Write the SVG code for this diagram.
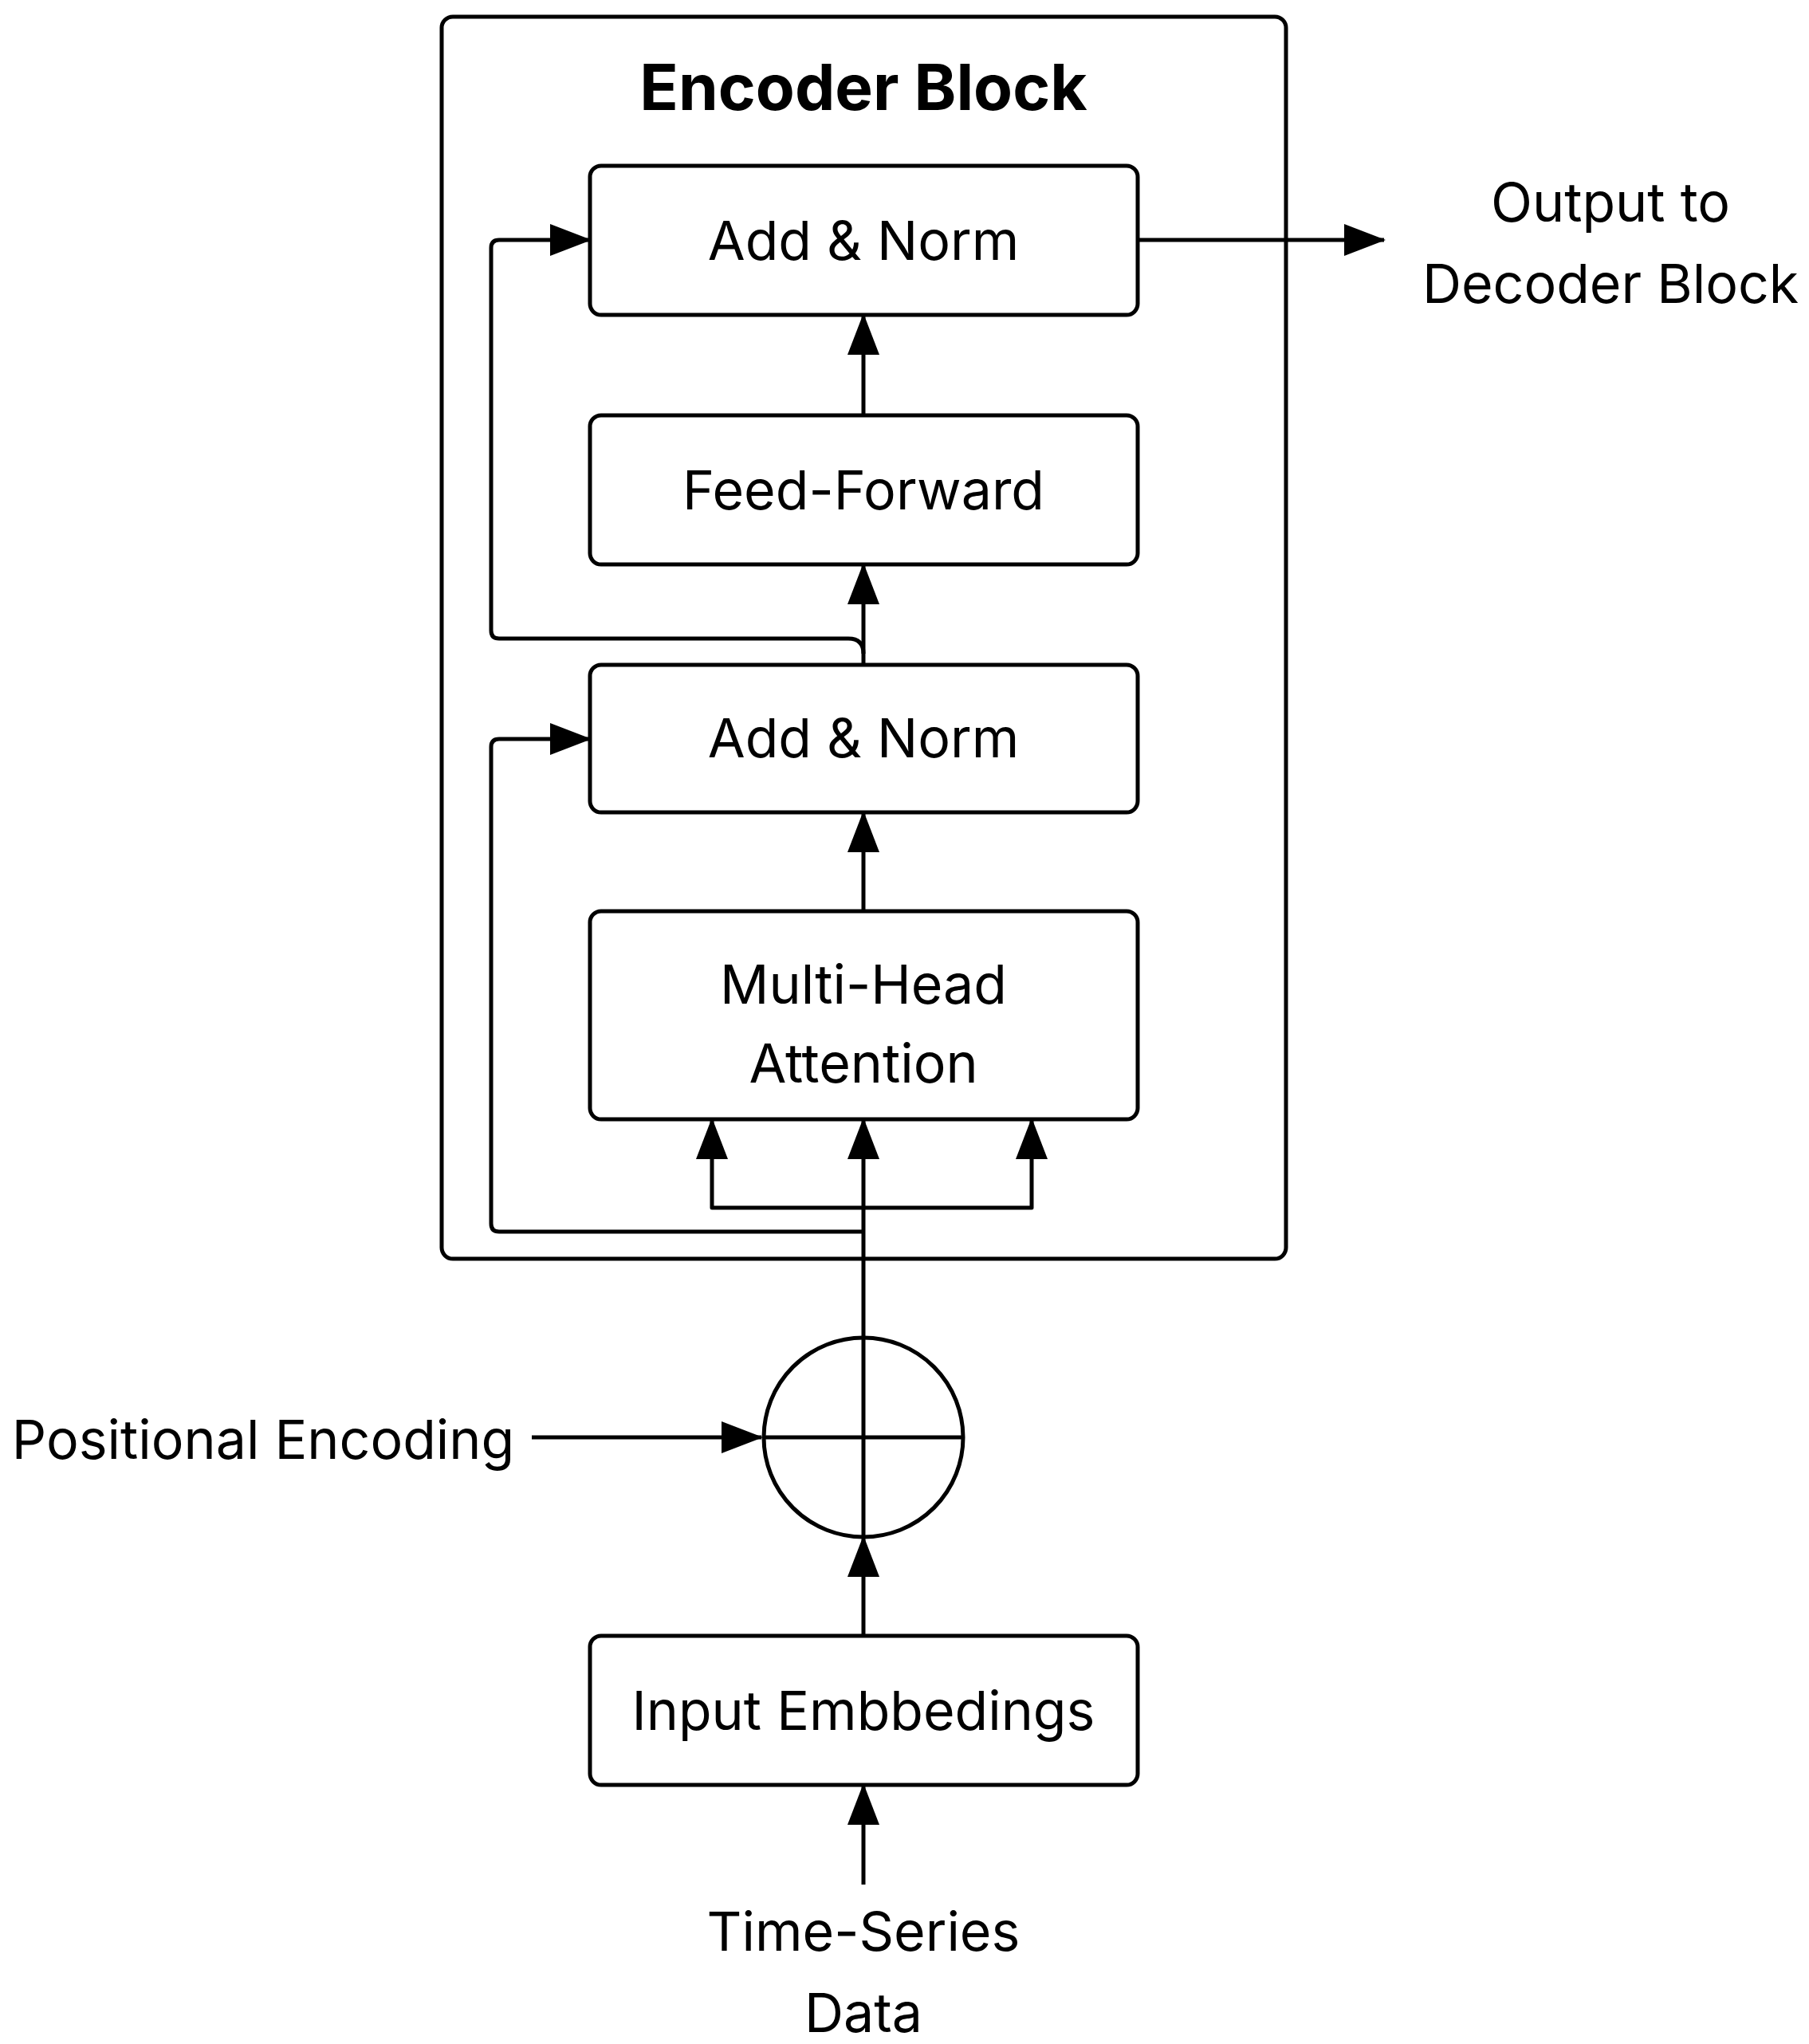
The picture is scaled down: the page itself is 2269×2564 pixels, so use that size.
<svg xmlns="http://www.w3.org/2000/svg" width="2269" height="2564" viewBox="0 0 2269 2564">
<style>
.b{fill:#fff;stroke:#000;stroke-width:5}
.t{font-family:Inter,"Liberation Sans",sans-serif;font-size:68px;fill:#000;text-anchor:middle}
.c{fill:none;stroke:#000;stroke-width:5;stroke-linejoin:round}
</style>
<defs>
<marker id="a" markerUnits="userSpaceOnUse" markerWidth="52" markerHeight="40" refX="50" refY="20" orient="auto"><path d="M0,0L52,20L0,40Z" fill="#000"/></marker>
</defs>
<rect width="2269" height="2564" fill="#fff"/>
<g id="encoder"><rect class="b" x="554" y="21" width="1059" height="1558" rx="14"/>
<text class="t" x="1083" y="138" style="font-weight:bold;font-size:80px">Encoder Block</text></g>
<g id="connectors" class="c">
<path d="M1083,1795V1404" marker-end="url(#a)"/>
<path d="M1083,1515H893V1404" marker-end="url(#a)"/>
<path d="M1083,1515H1294V1404" marker-end="url(#a)"/>
<path d="M1083,1545H626q-10,0-10-10V937q0-10,10-10H740" marker-end="url(#a)"/>
<path d="M1083,1143V1019" marker-end="url(#a)"/>
<path d="M1083,834V708" marker-end="url(#a)"/>
<path d="M1083,820q0-19-19-19H626q-10,0-10-10V311q0-10,10-10H740" marker-end="url(#a)"/>
<path d="M1083,521V395" marker-end="url(#a)"/>
<path d="M1427,301H1736" marker-end="url(#a)"/>
<path d="M667,1803H955" marker-end="url(#a)"/>
<path d="M1083,2052V1928" marker-end="url(#a)"/>
<path d="M1083,2364V2239" marker-end="url(#a)"/>
</g>
<g id="addnorm2"><rect class="b" x="740" y="208" width="687" height="187" rx="14"/><text class="t" x="1083" y="326">Add &amp; Norm</text></g>
<g id="ff"><rect class="b" x="740" y="521" width="687" height="187" rx="14"/><text class="t" x="1083" y="639">Feed-Forward</text></g>
<g id="addnorm1"><rect class="b" x="740" y="834" width="687" height="185" rx="14"/><text class="t" x="1083" y="950">Add &amp; Norm</text></g>
<g id="mha"><rect class="b" x="740" y="1143" width="687" height="261" rx="14"/><text class="t" x="1083" y="1259">Multi-Head</text><text class="t" x="1083" y="1358">Attention</text></g>
<g id="sum"><circle class="b" cx="1083" cy="1803" r="125" fill="none"/><path class="c" d="M958,1803H1208M1083,1678V1928"/></g>
<g id="emb"><rect class="b" x="740" y="2052" width="687" height="187" rx="14"/><text class="t" x="1083" y="2170">Input Embbedings</text></g>
<g id="out"><text class="t" x="2020" y="278">Output to</text><text class="t" x="2020" y="380">Decoder Block</text></g>
<g id="pe"><text class="t" x="330" y="1830">Positional Encoding</text></g>
<g id="ts"><text class="t" x="1083" y="2447">Time-Series</text><text class="t" x="1083" y="2549">Data</text></g>
</svg>
